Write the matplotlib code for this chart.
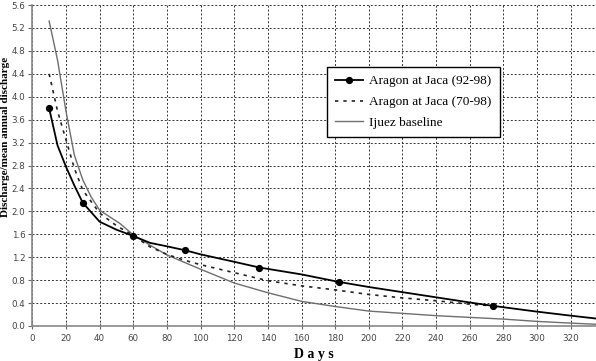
import matplotlib
matplotlib.use("Agg")
import matplotlib.pyplot as plt
import numpy as np

# Aragon at Jaca (92-98)
days_9298 = [10, 15, 20, 25, 30, 40, 50, 60, 70, 80, 91, 100, 120, 135, 160, 182, 200, 220, 240, 260, 274, 300, 320, 335]
vals_9298 = [3.80, 3.15, 2.78, 2.45, 2.15, 1.82, 1.68, 1.57, 1.45, 1.39, 1.32, 1.25, 1.12, 1.02, 0.90, 0.77, 0.68, 0.59, 0.50, 0.41, 0.35, 0.25, 0.18, 0.13]
marker_days = [10, 30, 60, 91, 135, 182, 274]

# Aragon at Jaca (70-98)
days_7098 = [10, 15, 20, 25, 30, 40, 50, 60, 70, 80, 90, 100, 120, 140, 160, 180, 200, 220, 240, 260, 274]
vals_7098 = [4.40, 3.75, 3.25, 2.75, 2.37, 1.97, 1.75, 1.58, 1.38, 1.25, 1.15, 1.07, 0.93, 0.79, 0.70, 0.63, 0.55, 0.49, 0.44, 0.38, 0.35]

# Ijuez baseline
days_ij = [10, 15, 20, 25, 30, 35, 40, 52, 60, 70, 80, 100, 120, 140, 160, 180, 200, 220, 240, 260, 280, 300, 320, 335]
vals_ij = [5.32, 4.64, 3.75, 2.98, 2.55, 2.25, 2.02, 1.79, 1.59, 1.41, 1.24, 0.99, 0.75, 0.58, 0.43, 0.34, 0.26, 0.22, 0.18, 0.15, 0.12, 0.08, 0.05, 0.03]

x_ticks = list(range(0, 321, 20))
y_ticks = [round(0.4 * i, 1) for i in range(15)]

fig = plt.figure(figsize=(5.96, 3.61), dpi=100)
ax = fig.add_axes([0.0542, 0.097, 0.9458, 0.889])

ax.plot(days_ij, vals_ij, color="#6e6e6e", lw=1.0, label="Ijuez baseline", zorder=3)
ax.plot(days_7098, vals_7098, color="#222222", lw=1.2, ls=(0, (2, 3)), label="Aragon at Jaca (70-98)", zorder=4)
mk_idx = [days_9298.index(d) for d in marker_days]
ax.plot(days_9298, vals_9298, color="black", lw=1.3, marker="o", markersize=4.2,
        markevery=mk_idx, label="Aragon at Jaca (92-98)", zorder=5)

ax.set_xlim(0, 335)
ax.set_ylim(0, 5.6)
ax.set_xticks(x_ticks)
ax.set_yticks(y_ticks)
ax.set_yticklabels([f"{v:.1f}" for v in y_ticks])
ax.grid(True, color="#333333", ls=(0, (2, 2)), lw=0.7)
ax.set_axisbelow(True)

for s in ["top", "right"]:
    ax.spines[s].set_visible(False)
for s in ["left", "bottom"]:
    ax.spines[s].set_color("#888888")
    ax.spines[s].set_linewidth(1.2)

ax.tick_params(axis="x", direction="inout", length=5, width=0.8, color="#666666",
               labelsize=6.3, labelcolor="#444444", pad=3)
ax.tick_params(axis="y", direction="out", length=3, width=0.8, color="#666666",
               labelsize=6.3, labelcolor="#444444", pad=2)

ax.set_xlabel("D a y s", fontfamily="Liberation Serif", fontweight="bold", fontsize=10, labelpad=4)
fig.text(6 / 596, 1 - 137 / 361, "Discharge/mean annual discharge", rotation=90,
         ha="center", va="center", fontfamily="Liberation Serif", fontweight="bold", fontsize=8)

handles, labels = ax.get_legend_handles_labels()
order = [2, 1, 0]
leg = ax.legend([handles[i] for i in order], [labels[i] for i in order],
                loc="upper left", bbox_to_anchor=(0.523, 0.806),
                prop={"family": "Liberation Serif", "size": 9.5},
                frameon=True, fancybox=False, edgecolor="black", framealpha=1,
                handlelength=2.1, labelspacing=0.65, borderpad=0.6, handletextpad=0.5,
                borderaxespad=0)
leg.get_frame().set_linewidth(1.0)

fig.savefig("out.png", dpi=100)
